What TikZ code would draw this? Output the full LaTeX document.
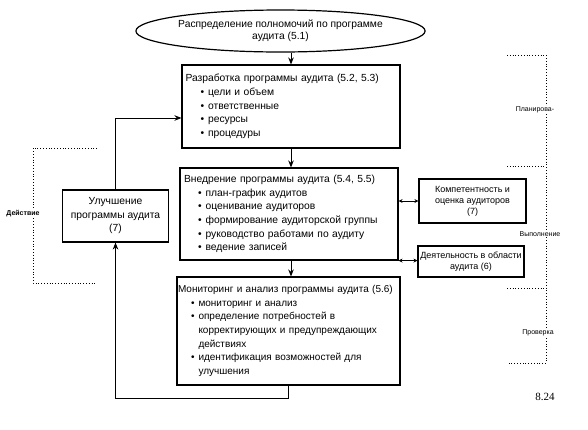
\documentclass[tikz,border=0pt]{standalone}
\usepackage{fontspec}
\setmainfont{Liberation Sans}
\newfontfamily\numserif{Liberation Serif}
\usetikzlibrary{shapes.geometric,arrows.meta,calc}
\newcommand\bul[1]{\hspace*{#1}\textbullet\hspace{4pt}}
\begin{document}
\begin{tikzpicture}[x=1pt,y=-1pt,
  box/.style={draw,line width=1.1pt,rectangle,inner xsep=0pt,inner ysep=0pt,align=left,
    font=\fontsize{10.3}{13.7}\selectfont},
  cbox/.style={draw,line width=1.1pt,rectangle,inner sep=0pt,align=center},
  arr/.style={line width=1pt,-{Stealth[length=7pt,width=5.5pt]}},
  dbl/.style={line width=0.8pt,{Stealth[length=4pt,width=4pt]}-{Stealth[length=4pt,width=4pt]}},
  brk/.style={dotted,line width=0.8pt},
  lab/.style={fill=white,inner sep=1pt,font=\fontsize{7}{8}\selectfont}
]
\useasboundingbox (0,0) rectangle (588,429);

\node[ellipse,draw,line width=1.2pt,minimum width=225pt,minimum height=42pt,inner sep=0pt,
  align=center,font=\fontsize{10.3}{12}\selectfont] (ell) at (280.5,31)
  {Распределение полномочий по программе\\аудита (5.1)};

\node[box,minimum width=218pt,text width=211pt,minimum height=83pt] (b1) at (291,106.5)
  {Разработка программы аудита (5.2, 5.3)\\
   \bul{15pt}цели и объем\\
   \bul{15pt}ответственные\\
   \bul{15pt}ресурсы\\
   \bul{15pt}процедуры};

\node[box,minimum width=218pt,text width=210pt,minimum height=92pt] (b2) at (289,214)
  {Внедрение программы аудита (5.4, 5.5)\\
   \bul{14pt}план-график аудитов\\
   \bul{14pt}оценивание аудиторов\\
   \bul{14pt}формирование аудиторской группы\\
   \bul{14pt}руководство работами по аудиту\\
   \bul{14pt}ведение записей};

\node[box,minimum width=223pt,text width=221pt,minimum height=108pt,font=\fontsize{10}{13.6}\selectfont] (b3) at (288.5,331)
  {Мониторинг и анализ программы аудита (5.6)\\
   \bul{13pt}мониторинг и анализ\\
   \bul{13pt}определение потребностей в\\
   \hspace*{20.5pt}корректирующих и предупреждающих\\
   \hspace*{20.5pt}действиях\\
   \bul{13pt}идентификация возможностей для\\
   \hspace*{20.5pt}улучшения};

\node[cbox,minimum width=106pt,minimum height=52pt,font=\fontsize{10.3}{13.5}\selectfont] (imp) at (115.5,216)
  {Улучшение\\программы аудита\\(7)};

\node[cbox,minimum width=107pt,minimum height=44pt,font=\fontsize{9}{11}\selectfont] (comp) at (472.5,201)
  {Компетентность и\\оценка аудиторов\\(7)};

\node[cbox,minimum width=106pt,minimum height=31pt,font=\fontsize{9}{11}\selectfont] (act) at (471,261.5)
  {Деятельность в области\\аудита (6)};

% main flow
\draw[arr] (b1.north |- ell.south) -- (b1.north);
\draw[arr] (b1.south) -- (b2.north -| b1.south);
\draw[arr] (b2.south -| b1.south) -- (b3.north -| b1.south);
% feedback loop
\draw[arr] (b3.south) -- ++(0,13) -| (imp.south);
\draw[arr] (imp.north) |- ([yshift=-11.5pt]b1.west);
% side links
\draw[dbl] (b2.east |- comp.west) -- (comp.west);
\draw[dbl] (b2.south east) -- (b2.south east -| act.west);

% right bracket
\coordinate (r1) at (546,55);
\coordinate (r2) at (546,166);
\coordinate (r3) at (546,288);
\coordinate (r4) at (546,363);
\draw[brk] (507,55) -- (r1) -- (r4) -- (507,363);
\draw[brk] (507,166) -- (r2);
\draw[brk] (507,288) -- (r3);
\node[lab] (pl) at (535,110) {Планирова-};
\node[lab] (vy) at (540,234) {Выполнение};
\node[lab] (pr) at (538,333) {Проверка};

% left bracket
\coordinate (l1) at (33,148);
\coordinate (l2) at (33,283);
\draw[brk] (97,148) -- (l1) -- (l2) -- (97,283);
\node[lab,font=\fontsize{7}{8}\bfseries] (de) at (23,214) {Действие};

\node[font=\numserif\fontsize{11}{12}\selectfont] (pg) at (545,397) {8.24};
\end{tikzpicture}
\end{document}
